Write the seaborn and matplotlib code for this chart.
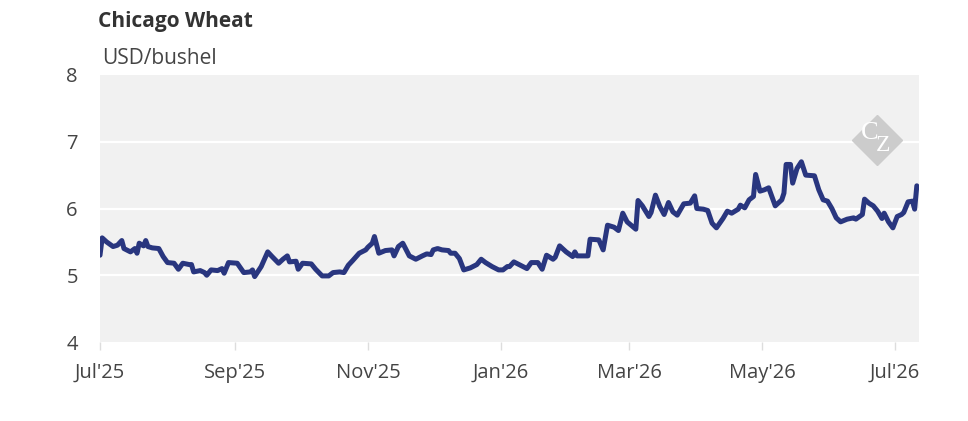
import pandas as pd
import matplotlib.pyplot as plt
import seaborn as sns

# Chicago wheat, USD/bushel
dates = [
    "2025-07-01", "2025-07-02", "2025-07-04", "2025-07-07", "2025-07-09", "2025-07-11", "2025-07-12",
    "2025-07-15", "2025-07-17", "2025-07-18", "2025-07-19", "2025-07-21", "2025-07-22", "2025-07-23",
    "2025-07-25", "2025-07-28", "2025-07-30", "2025-08-01", "2025-08-04", "2025-08-06", "2025-08-08",
    "2025-08-11", "2025-08-12", "2025-08-13", "2025-08-16", "2025-08-18", "2025-08-19", "2025-08-21",
    "2025-08-24", "2025-08-26", "2025-08-27", "2025-08-29", "2025-09-02", "2025-09-05", "2025-09-08",
    "2025-09-09", "2025-09-10", "2025-09-13", "2025-09-16", "2025-09-18", "2025-09-21", "2025-09-23",
    "2025-09-25", "2025-09-26", "2025-09-29", "2025-09-30", "2025-10-02", "2025-10-06", "2025-10-08",
    "2025-10-11", "2025-10-14", "2025-10-16", "2025-10-19", "2025-10-21", "2025-10-23", "2025-10-25",
    "2025-10-28", "2025-10-31", "2025-11-01", "2025-11-03", "2025-11-04", "2025-11-06", "2025-11-09",
    "2025-11-12", "2025-11-13", "2025-11-15", "2025-11-17", "2025-11-20", "2025-11-23", "2025-11-26",
    "2025-11-28", "2025-11-30", "2025-12-01", "2025-12-03", "2025-12-05", "2025-12-08", "2025-12-09",
    "2025-12-11", "2025-12-13", "2025-12-15", "2025-12-18", "2025-12-21", "2025-12-23", "2025-12-25",
    "2025-12-28", "2025-12-31", "2026-01-02", "2026-01-04", "2026-01-05", "2026-01-07", "2026-01-10",
    "2026-01-13", "2026-01-15", "2026-01-18", "2026-01-20", "2026-01-22", "2026-01-25", "2026-01-26",
    "2026-01-28", "2026-01-31", "2026-02-03", "2026-02-04", "2026-02-05", "2026-02-10", "2026-02-11",
    "2026-02-15", "2026-02-17", "2026-02-19", "2026-02-22", "2026-02-24", "2026-02-26", "2026-02-28",
    "2026-03-04", "2026-03-05", "2026-03-07", "2026-03-10", "2026-03-11", "2026-03-13", "2026-03-15",
    "2026-03-17", "2026-03-19", "2026-03-21", "2026-03-23", "2026-03-26", "2026-03-29", "2026-03-31",
    "2026-04-01", "2026-04-04", "2026-04-06", "2026-04-08", "2026-04-10", "2026-04-13", "2026-04-15",
    "2026-04-17", "2026-04-20", "2026-04-21", "2026-04-23", "2026-04-25", "2026-04-27", "2026-04-28",
    "2026-04-30", "2026-05-02", "2026-05-04", "2026-05-07", "2026-05-10", "2026-05-11", "2026-05-12",
    "2026-05-14", "2026-05-15", "2026-05-17", "2026-05-19", "2026-05-21", "2026-05-25", "2026-05-27",
    "2026-05-29", "2026-05-31", "2026-06-02", "2026-06-04", "2026-06-06", "2026-06-09", "2026-06-12",
    "2026-06-13", "2026-06-16", "2026-06-17", "2026-06-19", "2026-06-21", "2026-06-23", "2026-06-25",
    "2026-06-26", "2026-06-28", "2026-06-30", "2026-07-02", "2026-07-04", "2026-07-05", "2026-07-07",
    "2026-07-09", "2026-07-10", "2026-07-11",
]
price = [
    5.30, 5.56, 5.50, 5.43, 5.45, 5.52, 5.40,
    5.35, 5.40, 5.33, 5.48, 5.44, 5.52, 5.43,
    5.41, 5.40, 5.28, 5.19, 5.18, 5.09, 5.18,
    5.16, 5.16, 5.05, 5.07, 5.04, 5.00, 5.08,
    5.07, 5.10, 5.03, 5.19, 5.18, 5.04, 5.05,
    5.08, 4.98, 5.13, 5.35, 5.28, 5.18, 5.24,
    5.29, 5.20, 5.21, 5.09, 5.18, 5.17, 5.09,
    4.99, 4.99, 5.04, 5.05, 5.04, 5.15, 5.22,
    5.33, 5.38, 5.42, 5.48, 5.58, 5.33, 5.37,
    5.38, 5.29, 5.43, 5.48, 5.29, 5.24, 5.29,
    5.32, 5.31, 5.38, 5.40, 5.38, 5.37, 5.33,
    5.33, 5.25, 5.08, 5.11, 5.16, 5.24, 5.19,
    5.13, 5.08, 5.08, 5.13, 5.13, 5.20, 5.15,
    5.10, 5.19, 5.19, 5.09, 5.30, 5.24, 5.27,
    5.44, 5.35, 5.28, 5.35, 5.29, 5.29, 5.54,
    5.53, 5.38, 5.75, 5.72, 5.67, 5.93, 5.80,
    5.69, 6.12, 6.04, 5.88, 5.94, 6.20, 6.03,
    5.91, 6.09, 5.95, 5.90, 6.07, 6.08, 6.19,
    6.00, 5.99, 5.97, 5.78, 5.71, 5.85, 5.96,
    5.93, 5.99, 6.05, 6.01, 6.13, 6.18, 6.51,
    6.26, 6.28, 6.31, 6.04, 6.13, 6.23, 6.66,
    6.66, 6.38, 6.60, 6.70, 6.50, 6.49, 6.28,
    6.13, 6.11, 6.00, 5.86, 5.80, 5.84, 5.86,
    5.84, 5.91, 6.14, 6.08, 6.04, 5.96, 5.85,
    5.93, 5.80, 5.71, 5.88, 5.91, 5.94, 6.10,
    6.11, 5.99, 6.34,
]
tick_dates = ["2025-07-01", "2025-09-01", "2025-11-01", "2026-01-01", "2026-03-01", "2026-05-01", "2026-07-01"]
tick_labels = ["Jul'25", "Sep'25", "Nov'25", "Jan'26", "Mar'26", "May'26", "Jul'26"]
y_ticks = [4, 5, 6, 7, 8]

df = pd.DataFrame({"date": pd.to_datetime(dates), "price": price})

sns.set_theme(style="white")
plt.rcParams['font.family'] = ['Open Sans', 'DejaVu Sans']

fig = plt.figure(figsize=(9.68, 4.21), dpi=100)
ax = fig.add_axes([100 / 968, 1 - 342 / 421, 819 / 968, 267 / 421])
ax.set_facecolor('#f1f1f1')

sns.lineplot(data=df, x="date", y="price", ax=ax, color='#29367f', linewidth=3.6,
             solid_joinstyle='round', solid_capstyle='round', zorder=3)

ax.set_xlim(pd.Timestamp("2025-07-01"), pd.Timestamp("2026-07-12"))
ax.set_ylim(4, 8)
ax.set_yticks(y_ticks)
ax.set_xticks(pd.to_datetime(tick_dates))
ax.set_xticklabels(tick_labels)
ax.set_xlabel("")
ax.set_ylabel("")

for y in y_ticks[1:-1]:
    ax.axhline(y, color='white', linewidth=1.6, zorder=1)

for side in ['top', 'right', 'left', 'bottom']:
    ax.spines[side].set_visible(False)

ax.tick_params(axis='x', length=6, width=1, color='#dddddd', pad=9,
               labelsize=14.5, labelcolor='#444444', bottom=True)
ax.tick_params(axis='y', length=0, pad=16, labelsize=14.5, labelcolor='#444444')

# titles
fig.text(98 / 968, 1 - 22 / 421, "Chicago Wheat", fontsize=15, fontweight='bold',
         color='#333333', va='center', ha='left')
fig.text(102 / 968, 1 - 58 / 421, "USD/bushel", fontsize=15, color='#444444',
         va='center', ha='left')

# watermark logo
ax.plot([0.949], [0.757], marker='D', markersize=25, color='#cccccc',
        transform=ax.transAxes, clip_on=False, zorder=1.5)
ax.text(0.940, 0.782, "C", transform=ax.transAxes, fontsize=19, color='white',
        family=['Liberation Serif', 'DejaVu Serif'], ha='center', va='center', zorder=1.6)
ax.text(0.956, 0.735, "Z", transform=ax.transAxes, fontsize=17, color='white',
        family=['Liberation Serif', 'DejaVu Serif'], ha='center', va='center', zorder=1.6)

plt.savefig("out.png", dpi=100)
plt.close()
